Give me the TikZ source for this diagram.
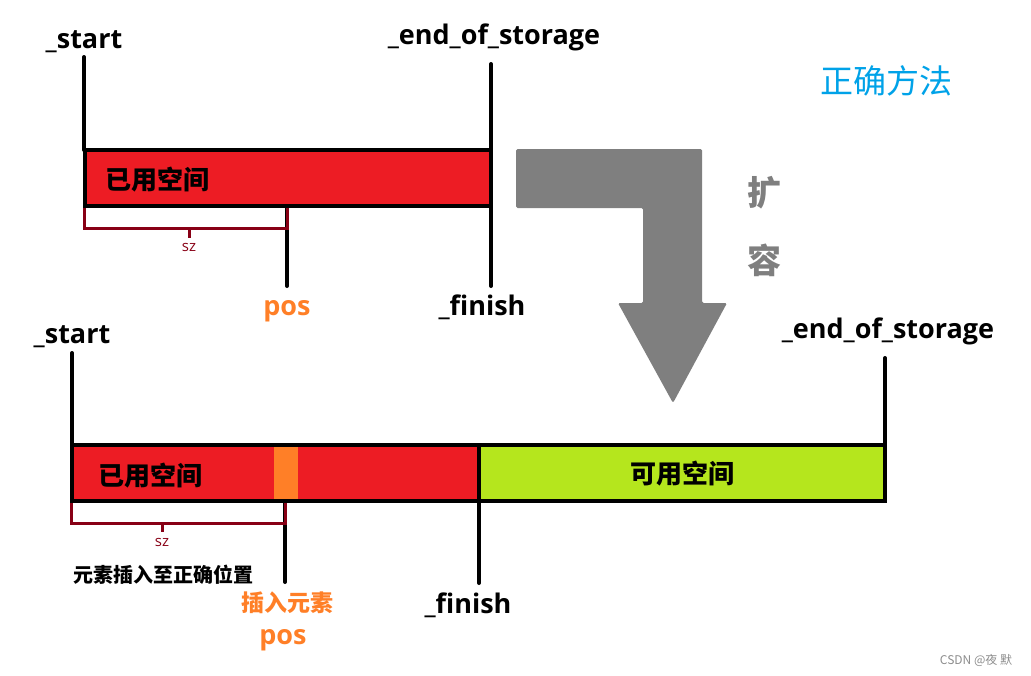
\documentclass[tikz,border=0pt]{standalone}
\usepackage{fontspec}
\setmainfont{Open Sans}
\newfontfamily\cjk{Noto Sans CJK SC}
\definecolor{usedred}{HTML}{ED1C24}
\definecolor{freegreen}{HTML}{B5E61D}
\definecolor{insorange}{HTML}{FF7F27}
\definecolor{darkred}{HTML}{880015}
\definecolor{arrowgray}{HTML}{7F7F7F}
\definecolor{titleblue}{HTML}{00A2E8}
\begin{document}
\begin{tikzpicture}[x=1pt,y=-1pt,
  lbl/.style={font=\bfseries\fontsize{27}{30}\selectfont, anchor=base, inner sep=0pt},
  cnlbl/.style={font=\cjk\bfseries\fontsize{#1}{#1}\selectfont, anchor=center, inner sep=0pt},
  ptr/.style={line width=4pt, line cap=round},
  barbox/.style={line width=4.5pt, draw=black},
  brk/.style={draw=darkred, line width=3pt},
  szlbl/.style={font=\fontsize{15}{16}\selectfont, text=darkred, inner sep=0pt}]
\useasboundingbox (0,0) rectangle (1031,675);

% ---------- top (before) ----------
\coordinate (tS1) at (84,57);   \coordinate (tS2) at (84,150);
\coordinate (tE1) at (491,64);  \coordinate (tE2) at (491,286);
\coordinate (tP1) at (287,206); \coordinate (tP2) at (287,286);
\coordinate (tB1) at (84,207);  \coordinate (tB2) at (84,228);
\coordinate (tB3) at (287,228); \coordinate (tB4) at (287,207);
\coordinate (tT1) at (189,228); \coordinate (tT2) at (189,238);

\draw[ptr] (tS1) -- (tS2);
\draw[ptr] (tE1) -- (tE2);
\draw[ptr] (tP1) -- (tP2);
\draw[brk] (tB1) -- (tB2) -- (tB3) -- (tB4);
\draw[brk] (tT1) -- (tT2);
\draw[barbox, fill=usedred] (85,150) rectangle (491,206);

\node[lbl] (tstart) at (84,48) {\_start};
\node[lbl] (tend) at (494,44) {\_end\_of\_storage};
\node[lbl, text=insorange] (tpos) at (287,315) {pos};
\node[lbl] (tfinish) at (482,315) {\_finish};
\node[szlbl] (tsz) at (189,247) {sz};
\node[cnlbl=26] (tused) at (157,180) {已用空间};

% ---------- title ----------
\node[font=\cjk\fontsize{33}{33}\selectfont, text=titleblue, inner sep=0pt] (title) at (886,81) {正确方法};

% ---------- expansion arrow ----------
\fill[arrowgray, rounded corners=1.5pt] (516,149) -- (702,149) -- (702,303) -- (727,303) -- (673,403) -- (618,303) -- (643,303) -- (643,208) -- (516,208) -- cycle;
\node[cnlbl=34, text=arrowgray] (kuo) at (764,193) {扩};
\node[cnlbl=34, text=arrowgray] (rong) at (764,260) {容};

% ---------- bottom (after) ----------
\coordinate (bS1) at (72,353);  \coordinate (bS2) at (72,445);
\coordinate (bE1) at (885,358); \coordinate (bE2) at (885,445);
\coordinate (bP1) at (285,501); \coordinate (bP2) at (285,582);
\coordinate (bF1) at (479,501); \coordinate (bF2) at (479,583);
\coordinate (bB1) at (71,502);  \coordinate (bB2) at (71,523);
\coordinate (bB3) at (285,523); \coordinate (bB4) at (285,502);
\coordinate (bT1) at (162,523); \coordinate (bT2) at (162,532);

\draw[ptr] (bS1) -- (bS2);
\draw[ptr] (bE1) -- (bE2);
\draw[ptr] (bP1) -- (bP2);
\draw[ptr] (bF1) -- (bF2);
\draw[brk] (bB1) -- (bB2) -- (bB3) -- (bB4);
\draw[brk] (bT1) -- (bT2);
\fill[usedred] (72,445) rectangle (479,501);
\fill[freegreen] (479,445) rectangle (885,501);
\fill[insorange] (274,447) rectangle (298,499);
\draw[barbox] (72,445) rectangle (885,501);
\draw[barbox] (479,445) -- (479,501);

\node[lbl] (bstart) at (72,343) {\_start};
\node[lbl] (bend) at (888,338) {\_end\_of\_storage};
\node[lbl] (bfinish) at (468,613) {\_finish};
\node[lbl, text=insorange] (bpos) at (283,644) {pos};
\node[szlbl] (bsz) at (162,542) {sz};
\node[cnlbl=26] (bused) at (150,476) {已用空间};
\node[cnlbl=26] (bfree) at (682,474) {可用空间};
\node[cnlbl=20] (note) at (163,575) {元素插入至正确位置};
\node[cnlbl=23, text=insorange] (ins) at (287,603) {插入元素};

% ---------- watermark ----------
\node[font=\cjk\fontsize{12}{12}\selectfont, text=black!45, inner sep=0pt] (wm) at (976,660) {CSDN @夜 默};
\end{tikzpicture}
\end{document}
